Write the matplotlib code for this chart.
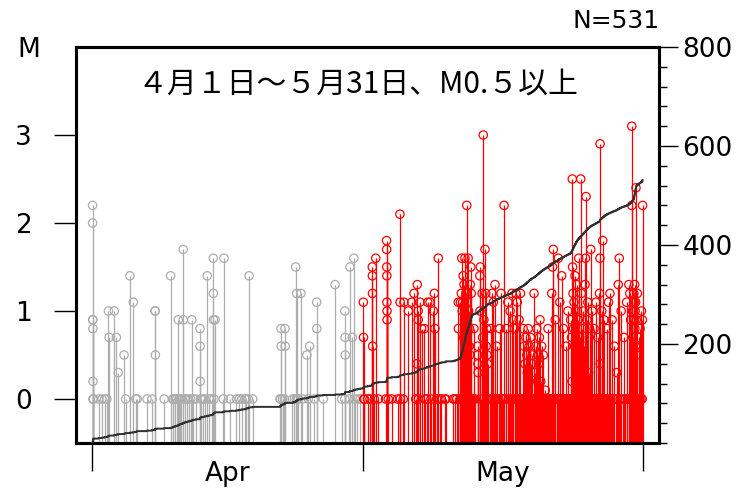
import matplotlib
matplotlib.use('Agg')
import matplotlib.pyplot as plt
from matplotlib.ticker import FixedLocator, MultipleLocator
import numpy as np

# time in days from Apr 1 00:00  (May 1 = 30, Jun 1 = 61)
apr_events = [
    (0.06, 2.2), (0.07, 2.0), (0.08, 0.9), (0.09, 0.9), (0.10, 0.8), (0.11, 0.2),
    (1.82, 1.0), (1.90, 0.7), (2.46, 1.0), (2.70, 0.7), (2.90, 0.3),
    (3.55, 0.5), (4.20, 1.4), (4.58, 1.1),
    (6.98, 1.0), (7.00, 1.0), (7.02, 0.5),
    (8.71, 1.4), (9.55, 0.9), (10.10, 1.7), (10.12, 0.9), (11.05, 0.9),
    (11.96, 0.8), (11.97, 0.6), (11.98, 0.2),
    (12.77, 1.4), (13.43, 1.6), (13.44, 1.2), (13.45, 0.9), (13.62, 0.9),
    (14.62, 1.6), (17.40, 1.4),
    (20.93, 0.8), (20.95, 0.6), (21.37, 0.8), (21.39, 0.6),
    (22.56, 1.5), (22.67, 1.2), (23.14, 1.2),
    (23.80, 0.5), (24.10, 0.6), (24.88, 1.1), (24.90, 0.8),
    (26.91, 1.3),
    (28.00, 1.0), (28.02, 0.7), (28.04, 0.5),
    (28.57, 1.5), (28.83, 0.7), (29.00, 1.6),
]
# events plotted at M0
apr_zero_t = [
    0.12, 0.13, 0.15, 0.74, 1.11, 1.4, 1.65, 3.72, 4.85, 5.0,
    6.1, 6.65, 7.99, 8.93, 9.0, 9.2, 9.38, 9.62, 9.7, 9.9,
    10.3, 10.5, 10.7, 10.93, 11.22, 11.5, 12.04, 12.26, 12.5, 13.0,
    13.25, 13.51, 14.54, 15.3, 16.0, 16.31, 16.6, 16.94, 17.1, 17.31,
    17.8, 20.82, 20.88, 21.1, 21.3, 22.2, 22.4, 22.62, 22.75, 22.85,
    23.3, 23.96, 24.62, 25.62, 27.65, 28.0, 28.5, 29.12, 29.4, 29.7,
]

may_events = [
    (30.05, 1.1), (30.07, 0.7), (31.04, 1.5), (31.05, 1.4), (31.06, 1.2), (31.08, 0.6),
    (31.42, 1.6), (32.62, 1.8), (32.63, 1.7), (32.64, 1.5), (32.65, 1.4), (32.66, 1.1),
    (32.67, 1.0), (32.68, 0.9),
    (34.10, 2.1), (34.12, 1.1), (34.55, 1.1), (35.03, 1.0), (35.40, 1.1), (35.66, 1.2),
    (35.96, 0.4), (36.02, 1.3), (36.12, 1.0), (36.13, 0.9), (36.32, 1.1), (36.51, 0.8),
    (36.80, 0.8), (37.18, 1.1), (37.43, 1.1), (37.80, 1.0), (37.91, 1.2), (37.98, 0.8),
    (38.35, 1.6), (40.56, 1.1), (40.57, 0.8),
    (40.80, 1.1), (40.90, 1.2), (40.95, 1.6), (41.00, 1.0), (41.05, 1.1), (41.10, 1.4),
    (41.15, 0.7), (41.20, 1.3), (41.25, 0.9), (41.30, 1.6), (41.35, 0.8), (41.40, 1.2),
    (41.45, 0.7), (41.50, 2.2), (41.55, 1.1), (41.60, 0.8), (41.65, 1.6), (41.70, 1.0),
    (41.75, 0.6), (41.80, 0.8), (41.85, 0.5), (41.90, 1.3), (41.95, 1.5), (42.00, 1.2),
    (42.30, 0.8), (42.70, 0.6), (42.72, 0.5), (42.74, 0.4), (42.76, 0.3), (42.95, 1.4),
    (42.97, 1.0), (43.00, 1.5), (43.20, 1.2), (43.25, 0.7), (43.33, 3.0), (43.40, 0.9),
    (43.52, 1.7), (43.60, 1.2), (43.65, 0.6), (43.70, 0.8), (43.75, 0.5), (43.80, 0.4),
    (44.20, 0.8), (44.30, 1.2), (44.45, 1.1), (44.63, 1.3), (44.80, 0.6),
    (45.15, 0.8), (45.30, 1.2), (45.63, 2.2), (45.90, 0.8), (46.05, 1.1), (46.30, 1.0),
    (46.50, 1.2), (46.65, 0.9), (46.80, 0.8), (46.95, 1.2), (47.10, 1.1), (47.30, 0.9),
    (47.45, 1.2),
    (47.75, 0.8), (47.85, 0.6), (47.95, 0.4), (48.05, 0.7), (48.15, 0.5), (48.20, 0.3),
    (48.30, 0.8), (48.40, 0.6), (48.45, 0.2), (48.55, 0.7), (48.65, 0.4), (48.75, 0.5),
    (48.95, 1.2), (49.05, 0.3), (49.15, 0.6), (49.25, 0.8), (49.35, 0.5), (49.45, 0.4),
    (49.55, 0.7), (49.61, 0.9), (49.70, 0.2), (49.80, 0.6), (49.98, 0.5), (50.20, 0.1),
    (50.50, 0.8),
    (50.91, 1.2), (51.00, 1.5), (51.09, 1.7), (51.30, 0.9), (51.64, 1.6), (51.80, 1.1),
    (52.01, 1.4), (52.20, 0.8), (52.49, 0.6), (52.70, 1.0),
    (53.00, 0.9), (53.10, 0.7), (53.15, 0.2), (53.19, 2.5), (53.22, 1.5), (53.27, 1.2),
    (53.32, 0.8), (53.38, 1.1), (53.43, 0.6), (53.49, 1.4), (53.55, 1.0), (53.60, 0.5),
    (53.66, 1.3), (53.72, 0.4), (53.80, 0.9), (53.90, 1.6), (54.00, 0.7), (54.12, 2.5),
    (54.20, 1.2), (54.30, 0.8), (54.40, 1.0), (54.50, 0.6), (54.60, 1.3), (54.65, 1.6),
    (54.71, 2.3), (54.80, 0.9), (54.90, 1.1), (55.00, 0.3), (55.10, 0.8), (55.23, 1.7),
    (55.40, 1.0), (55.60, 0.8), (55.80, 1.1), (56.00, 0.7), (56.20, 1.2), (56.25, 1.6),
    (56.26, 2.9), (56.28, 0.4), (56.45, 1.0), (56.56, 1.8), (56.70, 0.9),
    (57.00, 0.8), (57.20, 1.1), (57.36, 1.2), (57.60, 0.9), (57.85, 0.6), (58.11, 0.3),
    (58.28, 1.3), (58.39, 1.6), (58.60, 1.0), (58.90, 0.7), (59.20, 1.1), (59.45, 1.3),
    (59.55, 1.2),
    (59.65, 0.9), (59.77, 3.1), (59.78, 2.2), (59.85, 1.0), (59.90, 0.7), (60.00, 1.2),
    (60.03, 1.1), (60.06, 0.9), (60.09, 1.3), (60.12, 0.8), (60.15, 1.0), (60.18, 0.6),
    (60.20, 1.1), (60.24, 2.4), (60.27, 0.9), (60.30, 0.5), (60.40, 1.2), (60.55, 0.7),
    (60.70, 0.8), (60.85, 1.0), (60.95, 0.9), (60.97, 2.2),
]
may_zero_t = [
    30.1, 30.16, 30.53, 30.79, 31.26, 31.71, 32.52, 32.81, 33.19,
    33.85, 34.14, 34.47,
    35.85, 36.15, 36.88, 37.07, 37.54, 38.17, 38.54, 38.7,
    39.09, 39.2, 40.01, 40.2, 40.39,
    40.76, 40.78, 40.81, 40.83, 40.85, 40.87, 40.89, 40.91, 40.93, 40.96,
    40.98, 41.01, 41.03, 41.04, 41.06, 41.08, 41.09, 41.11, 41.12, 41.14,
    41.16, 41.18, 41.19, 41.21, 41.23, 41.24, 41.26, 41.28, 41.29, 41.31,
    41.33, 41.34, 41.36, 41.38, 41.41, 41.43, 41.44, 41.46, 41.48, 41.51,
    41.53, 41.56, 41.58, 41.61, 41.63, 41.66, 41.68, 41.71, 41.73, 41.76,
    41.78, 41.81, 41.83, 41.86, 41.88, 41.91, 41.93, 41.96, 41.98, 42.01,
    42.03, 42.05, 42.07, 42.09, 42.1,
    42.2, 42.45, 43.1, 43.9,
    44.05, 44.38, 44.55, 44.72, 44.9,
    45.05, 45.4, 45.55, 45.8, 46.15, 46.4, 46.6, 46.9, 47.05, 47.2, 47.38, 47.55,
    47.65, 47.9, 48.1, 48.35, 48.6, 48.85, 49.1, 49.3, 49.5, 49.75,
    49.9, 50.05, 50.15, 50.3, 50.4, 50.6, 50.7, 50.8, 50.88,
    50.95, 51.15, 51.25, 51.45, 51.55, 51.7, 51.9, 52.1, 52.3, 52.4, 52.6, 52.85,
    52.95, 53.05, 53.12, 53.2, 53.25, 53.3, 53.35, 53.4, 53.46, 53.52,
    53.58, 53.63, 53.7, 53.77, 53.85, 53.95, 54.05, 54.15, 54.25, 54.35,
    54.45, 54.55, 54.75, 54.85, 54.95, 55.15,
    55.3, 55.5, 55.7, 55.9, 56.1, 56.3, 56.35, 56.5, 56.62, 56.75, 56.8,
    56.95, 57.1, 57.45, 57.7, 58.0, 58.2, 58.5, 58.75, 59.05, 59.3, 59.5,
    59.7, 59.82, 59.95, 60.01, 60.02, 60.04, 60.05, 60.07, 60.08, 60.1,
    60.11, 60.13, 60.14, 60.16, 60.17, 60.19, 60.21, 60.22, 60.25, 60.28,
    60.33, 60.5, 60.65, 60.8, 60.93,
]

month_ticks = [0, 30, 61]
month_label_pos = [15, 45.5]
month_labels = ['Apr', 'May']
title = '４月１日～５月31日、M0.５以上'

num_font = ['DejaVu Sans']
jp_font = ['Noto Sans CJK JP', 'DejaVu Sans']
plt.rcParams['font.family'] = num_font

fig = plt.figure(figsize=(7.54, 4.88), dpi=100)
ax = fig.add_axes([76/754, 1-443/488, (659-76)/754, (443-47)/488])

gray = '#adadad'
red = '#ff0000'
base = -0.5


def draw(events, zeros, color):
    t = [e[0] for e in events] + list(zeros)
    m = [e[1] for e in events] + [0.0] * len(zeros)
    ax.vlines(t, base, m, color=color, lw=0.9, zorder=2)
    ax.scatter(t, m, s=36, facecolors='none', edgecolors=color,
               linewidths=0.9, zorder=3)
    return t


t_apr = draw(apr_events, apr_zero_t, gray)
t_may = draw(may_events, may_zero_t, red)

ax.set_xlim(-1.77, 62.79)
ax.set_ylim(-0.5, 4.0)
for s in ax.spines.values():
    s.set_linewidth(2.2)

ax.set_yticks([0, 1, 2, 3])
ax.set_yticklabels(['0', '1', '2', '3'])
ax.tick_params(axis='y', direction='out', length=16, width=1, pad=16, labelsize=19)

ax.xaxis.set_major_locator(FixedLocator(month_ticks))
ax.xaxis.set_minor_locator(FixedLocator(month_label_pos))
ax.xaxis.set_major_formatter(plt.NullFormatter())
ax.set_xticklabels(month_labels, minor=True)
ax.tick_params(axis='x', which='major', direction='out', length=20, width=1)
ax.tick_params(axis='x', which='minor', length=0, pad=13, labelsize=19)

# cumulative number on the right axis
all_t = np.sort(np.array(t_apr + t_may))
n_total = len(all_t)
cum = np.arange(1, n_total + 1)
ax2 = ax.twinx()
ax2.step(np.r_[0, all_t], np.r_[0, cum], where='post', color='#303030', lw=1.4, zorder=5)
ax2.set_ylim(0, 800)
ax2.set_yticks([200, 400, 600, 800])
ax2.yaxis.set_minor_locator(MultipleLocator(40))
ax2.tick_params(axis='y', which='major', direction='out', length=14, width=1, pad=3, labelsize=19)
ax2.tick_params(axis='y', which='minor', direction='out', length=6, width=1)
for s in ax2.spines.values():
    s.set_linewidth(2.2)

ax.text(0.483, 0.904, title, transform=ax.transAxes, ha='center', va='center',
        fontsize=21.5, family=jp_font)
fig.text(660/754, 1-21/488, 'N=%d' % n_total, ha='right', va='center', fontsize=18)
fig.text(29/754, 1-50/488, 'M', ha='center', va='center', fontsize=19)

fig.savefig('out.png', dpi=100)
